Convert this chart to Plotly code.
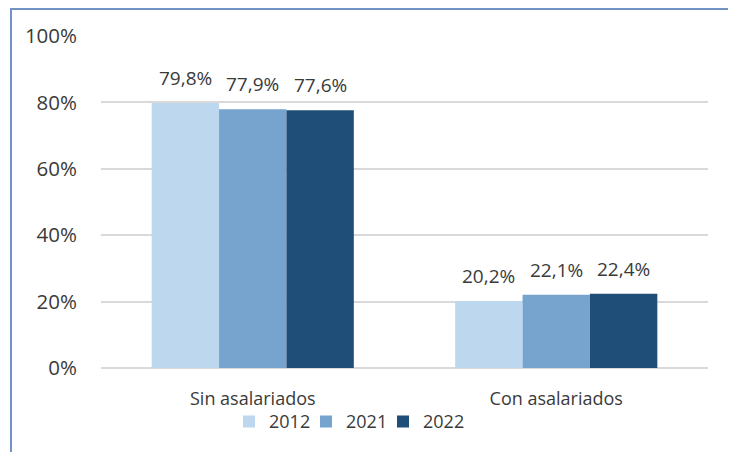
import plotly.graph_objects as go

categories = ["Sin asalariados", "Con asalariados"]
years = ["2012", "2021", "2022"]
values_2012 = [79.8, 20.2]
values_2021 = [77.9, 22.1]
values_2022 = [77.6, 22.4]
series = [values_2012, values_2021, values_2022]
colors = ["#BDD7EE", "#77A4CF", "#1F4E79"]
y_ticks = [0, 20, 40, 60, 80, 100]
y_tick_labels = ["0%", "20%", "40%", "60%", "80%", "100%"]

OFF = 8  # page body margin
W, H = 736, 452
# target plot box on screen: x 101..708, y 36..368
ML, MT = 101 - OFF, 36 - OFF
MR = W - (708 - OFF)
MB = H - (368 - OFF)
PW, PH = W - ML - MR, H - MT - MB
BARGAP = 0.334
FONT = "Open Sans"
TXT = "#3a3a3a"
legend_swatch_px = [244, 321, 398]  # screen x of legend swatches

fig = go.Figure()
legend_ids = ["legend", "legend2", "legend3"]
for yr, vals, col, lid in zip(years, series, colors, legend_ids):
    fig.add_trace(go.Bar(name=yr, x=categories, y=vals, legend=lid,
                         marker=dict(color=col, line=dict(width=0))))

# data labels
bar_px = PW / len(categories) * (1 - BARGAP) / len(years)
annotations = []
for i, (yr, vals) in enumerate(zip(years, series)):
    off = (i - (len(years) - 1) / 2) * bar_px
    for c, v in zip(categories, vals):
        annotations.append(dict(
            x=c, y=v, xref="x", yref="y", xshift=off, yshift=10,
            text=f"{v:.1f}".replace(".", ",") + "%", showarrow=False,
            yanchor="bottom", font=dict(family=FONT, size=19, color=TXT)))

# outer frame (screen coords: x 11..735, y 9..beyond bottom)
fx0 = (11 - OFF - ML) / PW
fx1 = (735 - OFF - ML) / PW
fy1 = 1 + (MT - (9 - OFF)) / PH
fy0 = -(H + 10 - (MT + PH)) / PH

legend_layouts = {}
for lid, sx in zip(legend_ids, legend_swatch_px):
    legend_layouts[lid] = dict(
        orientation="h", x=(sx - OFF - ML - 15) / PW, xanchor="left",
        y=-0.106, yanchor="top", font=dict(family=FONT, size=18, color=TXT),
        itemwidth=30, bgcolor="rgba(0,0,0,0)")

fig.update_layout(
    width=W, height=H,
    margin=dict(l=ML, r=MR, t=MT, b=MB, autoexpand=False),
    paper_bgcolor="white", plot_bgcolor="white",
    barmode="group", bargap=BARGAP, bargroupgap=0,
    font=dict(family=FONT, color=TXT, size=18),
    showlegend=True,
    annotations=annotations,
    shapes=[dict(type="rect", xref="paper", yref="paper", x0=fx0, x1=fx1, y0=fy0, y1=fy1,
                 line=dict(color="#7393C4", width=2), fillcolor="rgba(0,0,0,0)", layer="above")],
    **legend_layouts,
)
fig.update_xaxes(showgrid=False, showline=False, ticks="", ticklabelstandoff=18, automargin=False,
                 tickfont=dict(family=FONT, size=18, color=TXT))
fig.update_yaxes(range=[0, 100], tickvals=y_ticks, ticktext=y_tick_labels, automargin=False,
                 showgrid=True, gridcolor="#D9D9D9", gridwidth=1.5,
                 zeroline=True, zerolinecolor="#D9D9D9", zerolinewidth=1.5,
                 showline=False, ticks="", ticklabelstandoff=23,
                 tickfont=dict(family=FONT, size=20.5, color=TXT))

fig.write_html("out.html")
